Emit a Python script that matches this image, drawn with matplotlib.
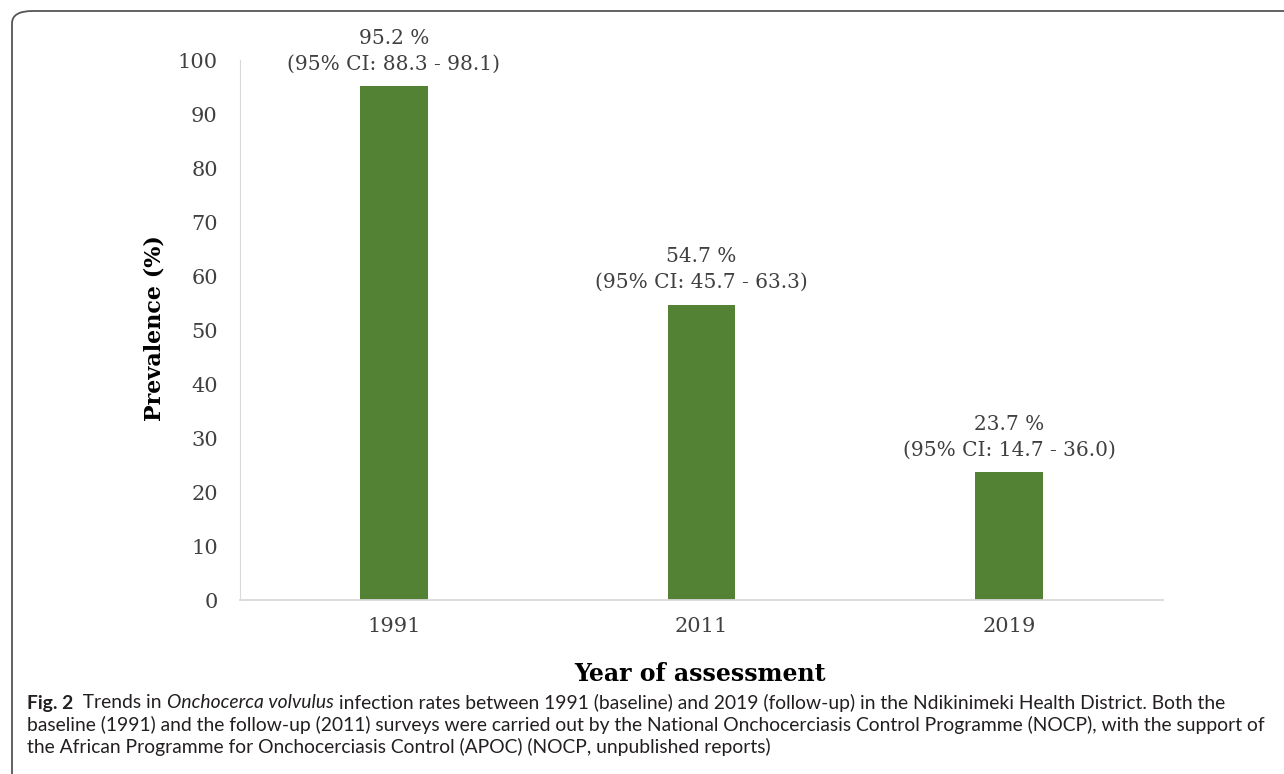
"""Onchocerca volvulus prevalence by assessment year."""

import matplotlib

matplotlib.use("Agg")
import matplotlib.pyplot as plt
from matplotlib import font_manager
from matplotlib.patches import FancyBboxPatch

years = ["1991", "2011", "2019"]
prevalence = [95.2, 54.7, 23.7]
ci_low = [88.3, 45.7, 14.7]
ci_high = [98.1, 63.3, 36.0]
y_ticks = list(range(0, 101, 10))

caption_lines = [
    [("Fig. 2", "bold", "normal"), ("  Trends in ", "normal", "normal"),
     ("Onchocerca volvulus", "normal", "italic"),
     (" infection rates between 1991 (baseline) and 2019 (follow-up) in the Ndikinimeki "
      "Health District. Both the", "normal", "normal")],
    [("baseline (1991) and the follow-up (2011) surveys were carried out by the National "
      "Onchocerciasis Control Programme (NOCP), with the support of", "normal", "normal")],
    [("the African Programme for Onchocerciasis Control (APOC) (NOCP, unpublished reports)",
      "normal", "normal")],
]

BAR_COLOR = "#548235"
TEXT_COLOR = "#404040"
CAP_COLOR = "#231f20"
W, H = 1284, 774


def _pick(names):
    for name in names:
        try:
            font_manager.findfont(font_manager.FontProperties(family=name), fallback_to_default=False)
            return name
        except ValueError:
            continue
    return names[-1]


SERIF = _pick(["DejaVu Serif Condensed", "DejaVu Serif"])
SANS = _pick(["Liberation Sans Narrow", "Lato", "Open Sans", "DejaVu Sans"])
condensed = SERIF.endswith("Condensed")
tick_fs = 16 if condensed else 15
ann_fs = 16 if condensed else 14.5
lab_fs = 19 if condensed else 17

fig = plt.figure(figsize=(W / 100, H / 100), dpi=100)
ax = fig.add_axes([240 / W, 1 - 600 / H, 923 / W, 540 / H])

x = list(range(len(years)))
ax.bar(x, prevalence, width=0.22, color=BAR_COLOR)
for xi, val, lo, hi in zip(x, prevalence, ci_low, ci_high):
    ax.annotate(f"{val:.1f} %\n(95% CI: {lo:.1f} - {hi:.1f})", (xi, val),
                xytext=(0, 9), textcoords="offset points", ha="center", va="bottom",
                fontsize=ann_fs, family=SERIF, color=TEXT_COLOR, linespacing=1.45,
                annotation_clip=False)

ax.set_xlim(-0.5, 2.5)
ax.set_ylim(0, 100)
ax.set_xticks(x)
ax.set_xticklabels(years, family=SERIF, fontsize=tick_fs, color=TEXT_COLOR)
ax.set_yticks(y_ticks)
ax.set_yticklabels([str(t) for t in y_ticks], family=SERIF, fontsize=tick_fs, color=TEXT_COLOR)
ax.tick_params(length=0)
ax.tick_params(axis="x", pad=12)
ax.tick_params(axis="y", pad=16)
for side in ["top", "right"]:
    ax.spines[side].set_visible(False)
ax.spines["left"].set_color("#d9d9d9")
ax.spines["bottom"].set_color("#d9d9d9")
ax.spines["bottom"].set_linewidth(1.3)

fig.text(155 / W, 1 - 328 / H, "Prevalence (%)", family=SERIF, fontsize=lab_fs - 1,
         fontweight="bold", rotation=90, ha="center", va="center", color="black")
fig.text(700 / W, 1 - 674 / H, "Year of assessment", family=SERIF, fontsize=lab_fs,
         fontweight="bold", ha="center", va="center", color="black")

# caption: fit the widest line to the reference width
renderer = fig.canvas.get_renderer()
probe = fig.text(0, 0, caption_lines[1][0][0], family=SANS, fontsize=13)
cap_fs = 13 * (1235 / probe.get_window_extent(renderer).width)
probe.remove()

for row, (line, y_px) in enumerate(zip(caption_lines, [703, 725, 747])):
    x_px = 27
    for text, weight, style in line:
        t = fig.text(x_px / W, 1 - y_px / H, text, family=SANS, fontsize=cap_fs,
                     fontweight=weight, fontstyle=style, va="center", color=CAP_COLOR)
        x_px += t.get_window_extent(renderer).width

border = FancyBboxPatch((12 / W, -0.02), 1.2, 1 - 11 / H + 0.02,
                        boxstyle="round,pad=0,rounding_size=0.016",
                        transform=fig.transFigure, fill=False, edgecolor="#555555",
                        linewidth=1.3, clip_on=False)
fig.patches.append(border)

fig.savefig("out.png", dpi=100)
